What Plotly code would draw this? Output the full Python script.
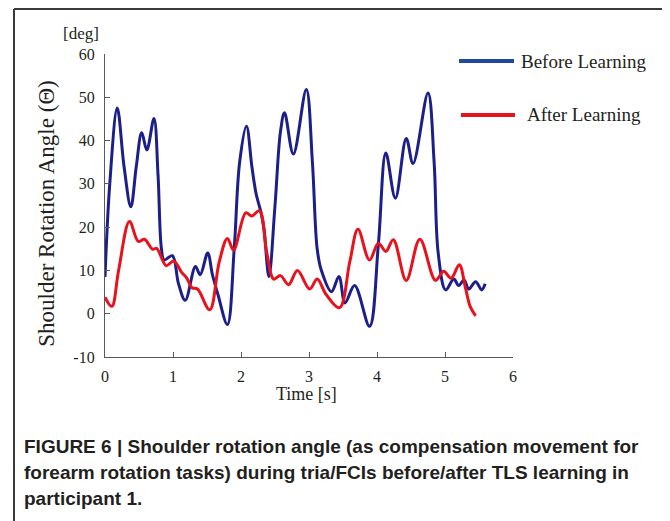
import plotly.graph_objects as go

# ---- data ----
before_t = [0.0, 0.07, 0.18, 0.28, 0.38, 0.46, 0.54, 0.615, 0.72, 0.78, 0.83, 0.87, 0.99, 1.08, 1.18,
            1.33, 1.40, 1.51, 1.58, 1.66, 1.80, 1.90, 1.98, 2.08, 2.16, 2.22, 2.30, 2.34, 2.41, 2.50,
            2.58, 2.64, 2.77, 2.96, 3.05, 3.12, 3.18, 3.33, 3.44, 3.53, 3.67, 3.89, 4.02, 4.13, 4.27,
            4.43, 4.53, 4.75, 4.84, 4.90, 5.01, 5.13, 5.20, 5.28, 5.35, 5.45, 5.54, 5.59]
before_v = [8.5, 30, 47.5, 34, 24.7, 34, 41.8, 37.8, 45.1, 32, 15, 12.4, 13.4, 7, 3.1,
            10.9, 9, 14, 9, 4.5, -2.5, 15, 35, 43.3, 34, 27.9, 23, 19.4, 8.6, 25,
            42, 46.4, 36.9, 51.8, 35, 15, 10.1, 5.1, 8.6, 2.5, 6.5, -2.9, 16, 37.1, 26.7,
            40.5, 34.7, 51, 35, 14, 5.5, 8, 6.5, 7.8, 5.7, 7.4, 5.5, 6.9]

after_t = [0.0, 0.10, 0.20, 0.36, 0.49, 0.58, 0.70, 0.76, 0.90, 1.01, 1.13, 1.20, 1.28, 1.36, 1.54,
           1.68, 1.80, 1.89, 2.07, 2.16, 2.27, 2.38, 2.48, 2.58, 2.70, 2.83, 3.01, 3.12, 3.25, 3.45,
           3.60, 3.72, 3.89, 4.02, 4.13, 4.24, 4.43, 4.63, 4.86, 4.98, 5.09, 5.21, 5.30, 5.37, 5.45]
after_v = [3.8, 1.7, 10, 21.3, 16.7, 17.2, 14.9, 15.1, 11.1, 12.2, 9.5, 8.3, 6, 5.7, 0.9,
           12, 17.4, 14.7, 23.3, 22.6, 23.8, 14, 8, 8.8, 6.7, 10, 5.7, 8, 4.5, 1.4,
           12, 19.5, 12.4, 16.3, 14.4, 17.1, 7.7, 17.2, 7.7, 9.8, 8.2, 11.3, 6, 1.7, -0.5]

x_ticks = [0, 1, 2, 3, 4, 5, 6]
x_tick_labels = ["0", "1", "2", "3", "4", "5", "6"]
y_ticks = [-10, 0, 10, 20, 30, 40, 50, 60]
y_tick_labels = ["-10", "0", "10", "20", "30", "40", "50", "60"]

series_names = ["Before Learning", "After Learning"]

caption_lines = [
    "FIGURE 6 | Shoulder rotation angle (as compensation movement for",
    "forearm rotation tasks) during tria/FCIs before/after TLS learning in",
    "participant 1.",
]

# ---- layout helpers: reference pixel -> paper (page has an 8px body margin) ----
OFF = 8
W, H = 670 - OFF, 521 - OFF
L, R, T, B = 105 - OFF, 513 - OFF, 54 - OFF, 357.5 - OFF
def px(x):
    return (x - OFF - L) / (R - L)
def py(y):
    return (B - (y - OFF)) / (B - T)

SERIF = "Liberation Serif, Times New Roman, serif"
SANS = "Liberation Sans, Arial, sans-serif"
TXT = "#231f20"
BLUE = "#1c1f8a"
RED = "#e8121c"

fig = go.Figure()
fig.add_trace(go.Scatter(x=before_t, y=before_v, mode="lines", name=series_names[0],
                         line=dict(color=BLUE, width=3, shape="spline", smoothing=1.0),
                         showlegend=False))
fig.add_trace(go.Scatter(x=after_t, y=after_v, mode="lines", name=series_names[1],
                         line=dict(color=RED, width=3, shape="spline", smoothing=1.0),
                         showlegend=False))

axis_common = dict(showgrid=False, zeroline=False, showline=True, linecolor="#5a5a5a",
                   linewidth=1.3, ticks="inside", ticklen=5, tickcolor="#5a5a5a",
                   tickfont=dict(family=SERIF, size=16, color=TXT))
fig.update_xaxes(range=[0, 6], tickvals=x_ticks, ticktext=x_tick_labels, ticklabelstandoff=5,
                 **axis_common)
fig.update_yaxes(range=[-10, 60], tickvals=y_ticks, ticktext=y_tick_labels, ticklabelstandoff=6,
                 **axis_common)

shapes = []
# outer figure frame
shapes.append(dict(type="line", xref="paper", yref="paper", x0=px(14), x1=px(666), y0=py(9), y1=py(9),
                   line=dict(color="#3a3a3a", width=2)))
shapes.append(dict(type="line", xref="paper", yref="paper", x0=px(14), x1=px(14), y0=py(9), y1=py(530),
                   line=dict(color="#3a3a3a", width=2)))
shapes.append(dict(type="line", xref="paper", yref="paper", x0=px(666), x1=px(666), y0=py(9), y1=py(530),
                   line=dict(color="#8a8a8a", width=2)))
# legend samples
shapes.append(dict(type="line", xref="paper", yref="paper", x0=px(459), x1=px(514), y0=py(61), y1=py(61),
                   line=dict(color="#2147a3", width=4)))
shapes.append(dict(type="line", xref="paper", yref="paper", x0=px(461), x1=px(515), y0=py(115), y1=py(115),
                   line=dict(color=RED, width=4)))

def ann(text, x, y, size, family=SERIF, xanchor="center", angle=0):
    return dict(text=text, x=px(x), y=py(y), xref="paper", yref="paper", showarrow=False,
                xanchor=xanchor, yanchor="middle", textangle=angle,
                font=dict(family=family, size=size, color=TXT))

annotations = [
    ann("[deg]", 81, 33, 17),
    ann("Shoulder Rotation Angle (Θ)", 47, 214, 23, angle=-90),
    ann("Time [s]", 306, 395, 18),
    ann(series_names[0], 519, 62, 19, xanchor="left"),
    ann(series_names[1], 525, 115, 19, xanchor="left"),
]
for i, line in enumerate(caption_lines):
    annotations.append(ann("<b>" + line + "</b>", 22, 447 + 26 * i, 19, family=SANS, xanchor="left"))

fig.update_layout(width=W, height=H, margin=dict(l=L, r=W - R, t=T, b=H - B, autoexpand=False),
                  paper_bgcolor="white", plot_bgcolor="white", shapes=shapes, annotations=annotations)

fig.write_html("out.html")
